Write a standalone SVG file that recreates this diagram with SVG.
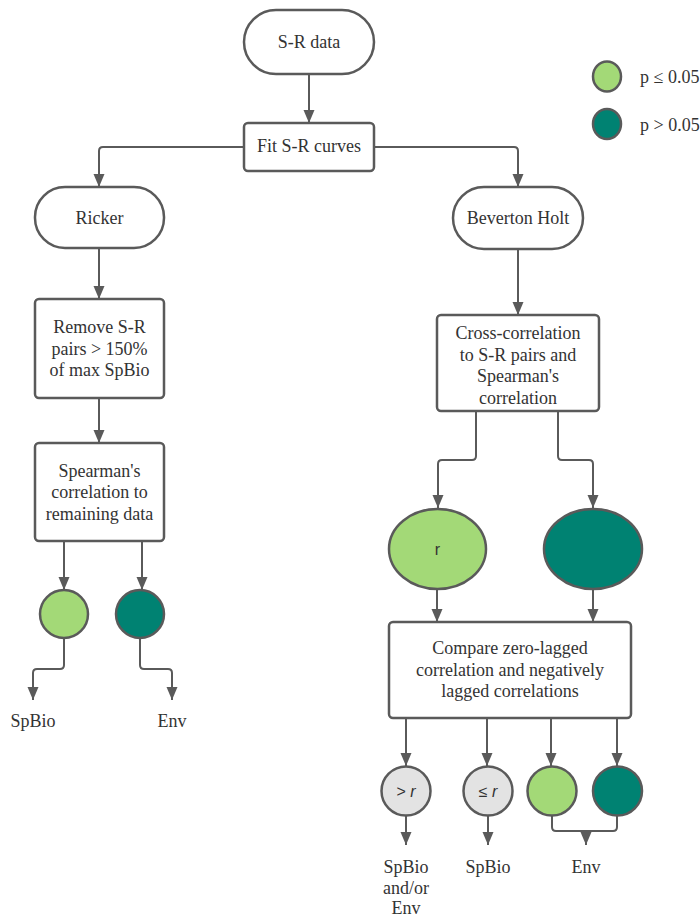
<svg xmlns="http://www.w3.org/2000/svg" width="700" height="918" viewBox="0 0 700 918">
<style>
.n{fill:#ffffff;stroke:#5a5a5a;stroke-width:2.5}
.lg{fill:#a3d977;stroke:#5a5a5a;stroke-width:2.5}
.dk{fill:#008272;stroke:#5a5a5a;stroke-width:2.5}
.gy{fill:#e3e3e3;stroke:#5a5a5a;stroke-width:2.5}
.t{font-family:"Liberation Serif","Times New Roman",serif;font-size:18px;fill:#333333;text-anchor:middle}
.tl{font-family:"Liberation Serif","Times New Roman",serif;font-size:18px;fill:#333333}
.s{font-family:"Liberation Sans",Arial,sans-serif;font-size:16px;fill:#333333;text-anchor:middle}
.c{fill:none;stroke:#5a5a5a;stroke-width:2}
</style>
<defs>
<marker id="ah" markerUnits="userSpaceOnUse" markerWidth="14" markerHeight="12" refX="13" refY="5.5" orient="auto">
<path d="M0,0 L13,5.5 L0,11 z" fill="#5a5a5a"/>
</marker>
</defs>
<g id="connectors">
<path class="c" d="M309,74 V123" marker-end="url(#ah)"/>
<path class="c" d="M244,147 H103 Q99,147 99,151 V187" marker-end="url(#ah)"/>
<path class="c" d="M374,147 H514 Q518,147 518,151 V187" marker-end="url(#ah)"/>
<path class="c" d="M99,248 V299" marker-end="url(#ah)"/>
<path class="c" d="M99,398 V443" marker-end="url(#ah)"/>
<path class="c" d="M64,541 V590" marker-end="url(#ah)"/>
<path class="c" d="M142,541 V590" marker-end="url(#ah)"/>
<path class="c" d="M64,638 V665 Q64,669 60,669 H37 Q33,669 33,673 V700" marker-end="url(#ah)"/>
<path class="c" d="M140,638 V665 Q140,669 144,669 H168 Q172,669 172,673 V700" marker-end="url(#ah)"/>
<path class="c" d="M518,249 V315" marker-end="url(#ah)"/>
<path class="c" d="M476,411 V456 Q476,460 472,460 H442 Q438,460 438,464 V508" marker-end="url(#ah)"/>
<path class="c" d="M558,411 V456 Q558,460 562,460 H589 Q593,460 593,464 V508" marker-end="url(#ah)"/>
<path class="c" d="M437,589 V622" marker-end="url(#ah)"/>
<path class="c" d="M593,589 V622" marker-end="url(#ah)"/>
<path class="c" d="M406,718 V766" marker-end="url(#ah)"/>
<path class="c" d="M487,718 V766" marker-end="url(#ah)"/>
<path class="c" d="M551,718 V766" marker-end="url(#ah)"/>
<path class="c" d="M617,718 V766" marker-end="url(#ah)"/>
<path class="c" d="M406,816 V845" marker-end="url(#ah)"/>
<path class="c" d="M488,816 V845" marker-end="url(#ah)"/>
<path class="c" d="M552,816 V827 Q552,831 556,831 H613 Q617,831 617,827 V816"/>
<path class="c" d="M586,831 V845" marker-end="url(#ah)"/>
</g>
<g id="sr-data"><rect class="n" x="244" y="10" width="130" height="64" rx="32"/><text class="t" x="309" y="47.5">S-R data</text></g>
<g id="fit-curves"><rect class="n" x="244" y="123" width="130" height="48" rx="4"/><text class="t" x="309" y="151.5">Fit S-R curves</text></g>
<g id="ricker"><rect class="n" x="35" y="187" width="129" height="61" rx="30"/><text class="t" x="99.5" y="223.5">Ricker</text></g>
<g id="beverton-holt"><rect class="n" x="453" y="187" width="130" height="62" rx="31"/><text class="t" x="518" y="223.5">Beverton Holt</text></g>
<g id="remove-pairs"><rect class="n" x="35" y="299" width="129" height="99" rx="4"/>
<text class="t" x="99.5" y="333">Remove S-R</text><text class="t" x="99.5" y="354.5">pairs &gt; 150%</text><text class="t" x="99.5" y="376">of max SpBio</text></g>
<g id="spearman-left"><rect class="n" x="35" y="443" width="129" height="98" rx="4"/>
<text class="t" x="99.5" y="476.5">Spearman's</text><text class="t" x="99.5" y="498">correlation to</text><text class="t" x="99.5" y="519.5">remaining data</text></g>
<g id="left-light"><circle class="lg" cx="64" cy="614" r="24"/></g>
<g id="left-dark"><circle class="dk" cx="140" cy="614" r="24"/></g>
<g id="left-spbio"><text class="t" x="33" y="727">SpBio</text></g>
<g id="left-env"><text class="t" x="172" y="727">Env</text></g>
<g id="cross-correlation"><rect class="n" x="437" y="315" width="162" height="96" rx="4"/>
<text class="t" x="518" y="339">Cross-correlation</text><text class="t" x="518" y="360.5">to S-R pairs and</text><text class="t" x="518" y="382">Spearman's</text><text class="t" x="518" y="403.5">correlation</text></g>
<g id="ellipse-r"><ellipse class="lg" cx="437.5" cy="549" rx="48.5" ry="40"/><text class="s" x="437.5" y="555">r</text></g>
<g id="ellipse-dark"><ellipse class="dk" cx="593" cy="549" rx="49" ry="40"/></g>
<g id="compare"><rect class="n" x="389" y="622" width="242" height="96" rx="4"/>
<text class="t" x="510" y="654">Compare zero-lagged</text><text class="t" x="510" y="675.5">correlation and negatively</text><text class="t" x="510" y="697">lagged correlations</text></g>
<g id="gt-r"><circle class="gy" cx="406" cy="791" r="24.5"/><text class="s" x="406" y="797">&gt; <tspan font-style="italic">r</tspan></text></g>
<g id="le-r"><circle class="gy" cx="488" cy="791" r="24.5"/><text class="s" x="488" y="797">≤ <tspan font-style="italic">r</tspan></text></g>
<g id="bottom-light"><circle class="lg" cx="552" cy="791" r="24.5"/></g>
<g id="bottom-dark"><circle class="dk" cx="617.5" cy="791" r="24.5"/></g>
<g id="out-spbio-env"><text class="t" x="406" y="872.5">SpBio</text><text class="t" x="406" y="893.5">and/or</text><text class="t" x="406" y="914">Env</text></g>
<g id="out-spbio"><text class="t" x="488" y="872.5">SpBio</text></g>
<g id="out-env"><text class="t" x="586" y="872.5">Env</text></g>
<g id="legend">
<ellipse class="lg" cx="607" cy="76.5" rx="14" ry="15"/>
<text class="tl" x="640" y="83">p ≤ 0.05</text>
<ellipse class="dk" cx="607" cy="124" rx="14" ry="15"/>
<text class="tl" x="640" y="131">p &gt; 0.05</text>
</g>
</svg>
